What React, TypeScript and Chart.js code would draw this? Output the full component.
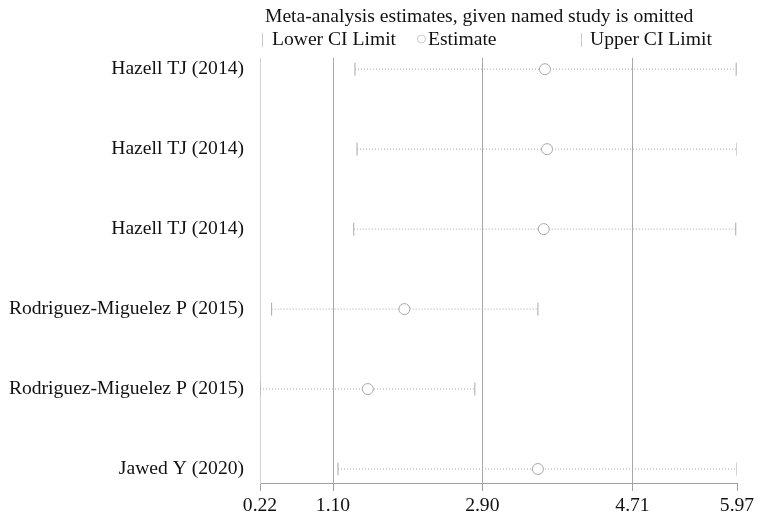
import React, { useEffect, useRef } from "react";
import { Chart, registerables } from "chart.js";

Chart.register(...registerables);

const studies = [
  "Hazell TJ (2014)",
  "Hazell TJ (2014)",
  "Hazell TJ (2014)",
  "Rodriguez-Miguelez P (2015)",
  "Rodriguez-Miguelez P (2015)",
  "Jawed Y (2020)",
];
const lowerCI = [1.365, 1.39, 1.35, 0.36, 0.22, 1.16];
const estimates = [3.655, 3.68, 3.64, 1.96, 1.52, 3.57];
const upperCI = [5.96, 5.97, 5.955, 3.57, 2.81, 5.97];
const xTicks = [0.22, 1.1, 2.9, 4.71, 5.97];

const titleText = "Meta-analysis estimates, given named study is omitted";
const legendLabels = ["Lower CI Limit", "Estimate", "Upper CI Limit"];

const FONT = "'Liberation Serif', 'Times New Roman', serif";
const FS = 19.6;
const MARK = "#a8a8a8";

const headerPlugin = {
  id: "header",
  afterDraw(chart: any) {
    const ctx = chart.ctx;
    const left = chart.chartArea.left;
    ctx.save();
    ctx.fillStyle = "#111";
    ctx.font = `${FS}px ${FONT}`;
    ctx.textBaseline = "middle";
    ctx.textAlign = "left";
    ctx.fillText(titleText, left + 5, 17);
    // legend
    const ly = 40;
    ctx.strokeStyle = "#c8c8c8";
    ctx.lineWidth = 1;
    ctx.beginPath();
    ctx.moveTo(left + 2.5, ly - 7);
    ctx.lineTo(left + 2.5, ly + 7);
    ctx.stroke();
    ctx.fillText(legendLabels[0], left + 12, ly);
    ctx.beginPath();
    ctx.arc(left + 161.5, ly - 1, 4, 0, Math.PI * 2);
    ctx.stroke();
    ctx.fillText(legendLabels[1], left + 168, ly);
    ctx.beginPath();
    ctx.moveTo(left + 321.5, ly - 7);
    ctx.lineTo(left + 321.5, ly + 7);
    ctx.stroke();
    ctx.fillText(legendLabels[2], left + 330, ly);
    ctx.restore();
  },
};

export default function App() {
  const ref = useRef<HTMLCanvasElement | null>(null);
  useEffect(() => {
    if (!ref.current) return;
    const ciSets = studies.map((s, i) => ({
      type: "line" as const,
      label: "ci" + i,
      data: [
        { x: lowerCI[i], y: i + 1 },
        { x: upperCI[i], y: i + 1 },
      ],
      borderColor: MARK,
      borderWidth: 1,
      borderDash: [1, 2],
      pointRadius: 0,
      showLine: true,
      fill: false,
      order: 3,
    }));
    const chart = new Chart(ref.current, {
      type: "scatter",
      data: {
        datasets: [
          {
            label: "Estimate",
            data: estimates.map((v, i) => ({ x: v, y: i + 1 })),
            pointStyle: "circle",
            pointRadius: 5.5,
            borderColor: MARK,
            backgroundColor: "rgba(255,255,255,1)",
            borderWidth: 1,
            order: 0,
          },
          {
            label: "Lower CI Limit",
            data: lowerCI.map((v, i) => ({ x: v, y: i + 1 })),
            pointStyle: "line",
            rotation: 90,
            pointRadius: 6.5,
            borderColor: MARK,
            borderWidth: 1,
            order: 1,
          },
          {
            label: "Upper CI Limit",
            data: upperCI.map((v, i) => ({ x: v, y: i + 1 })),
            pointStyle: "line",
            rotation: 90,
            pointRadius: 6.5,
            borderColor: MARK,
            borderWidth: 1,
            order: 1,
          },
          ...ciSets,
        ] as any,
      },
      options: {
        animation: false,
        responsive: true,
        maintainAspectRatio: false,
        layout: { padding: { top: 58, right: 31, left: 0, bottom: 0 } },
        plugins: {
          legend: { display: false },
          tooltip: { enabled: false },
          title: { display: false },
        },
        scales: {
          x: {
            type: "linear",
            min: 0.22,
            max: 5.97,
            afterBuildTicks: (scale: any) => {
              scale.ticks = xTicks.map((v) => ({ value: v }));
            },
            afterFit: (scale: any) => {
              scale.height = 37;
            },
            ticks: {
              autoSkip: false,
              maxRotation: 0,
              padding: 3,
              color: "#111",
              font: { family: FONT, size: FS },
              callback: (v: any) => Number(v).toFixed(2),
            },
            grid: {
              drawOnChartArea: true,
              drawTicks: true,
              tickLength: 8,
              tickColor: "#a0a0a0",
              color: (c: any) => {
                const v = c.tick ? c.tick.value : null;
                if (v === 0.22) return "#d2d2d2";
                if (v === 5.97) return "rgba(0,0,0,0)";
                return "#a8a8a8";
              },
            },
            border: { display: true, color: "#a0a0a0", width: 1 },
          },
          y: {
            type: "linear",
            reverse: true,
            min: 0.86,
            max: 6.175,
            afterBuildTicks: (scale: any) => {
              scale.ticks = studies.map((_, i) => ({ value: i + 1 }));
            },
            afterFit: (scale: any) => {
              scale.width = 260;
            },
            ticks: {
              autoSkip: false,
              padding: 16,
              color: "#111",
              font: { family: FONT, size: FS },
              callback: (v: any) => studies[Math.round(Number(v)) - 1] ?? "",
            },
            grid: { display: false, drawTicks: false },
            border: { display: true, color: "#d2d2d2", width: 1 },
          },
        },
      },
      plugins: [headerPlugin],
    });
    return () => chart.destroy();
  }, []);
  return (
    <div style={{ position: "fixed", left: 0, top: 0, width: 768, height: 520, background: "#fff" }}>
      <canvas ref={ref} />
    </div>
  );
}
